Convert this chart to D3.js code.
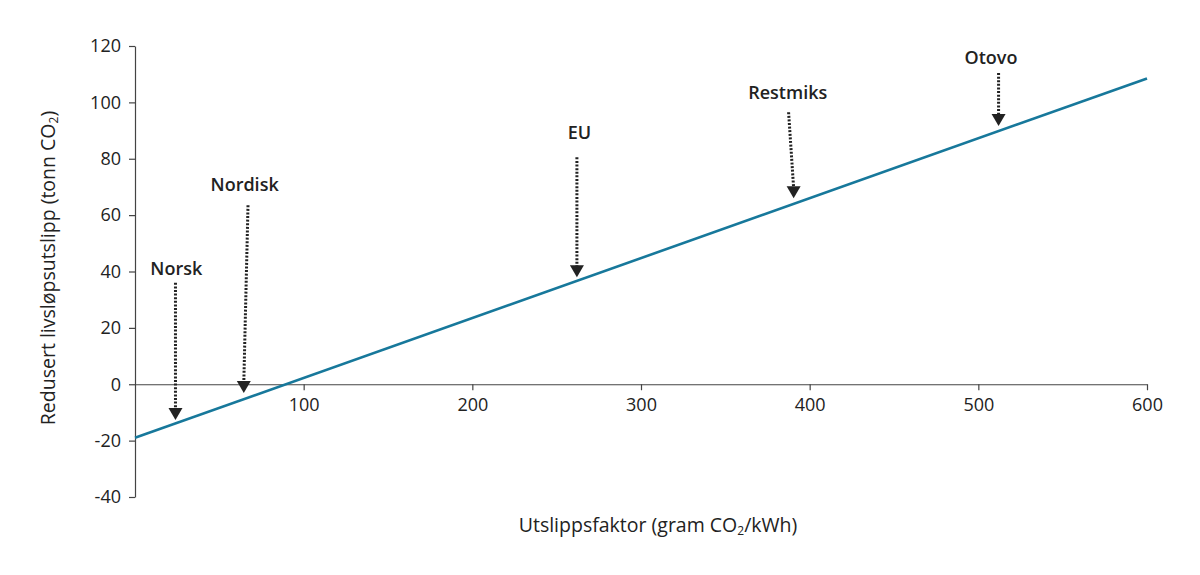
<!DOCTYPE html>
<html>
<head>
<meta charset="utf-8">
<script src="https://cdn.jsdelivr.net/npm/d3@7"></script>
<style>
  body { margin: 0; background: #fff; }
  text { font-family: "Open Sans", "Noto Sans", sans-serif; fill: #222; }
  .tick-label { font-size: 18px; }
  .axis-title { font-size: 19.5px; }
  .marker-label { font-size: 18px; font-weight: 600; }
</style>
</head>
<body>
<svg id="chart" width="1200" height="575"></svg>
<script>
var width = 1200, height = 575,
    margin = {top: 46, bottom: 78, left: 135, right: 53};

// data
var xTicks = [100, 200, 300, 400, 500, 600];
var yTicks = [-40, -20, 0, 20, 40, 60, 80, 100, 120];
var lineX = [0, 600];
var lineY = [-19, 108.5];

var markerNames = ['Norsk', 'Nordisk', 'EU', 'Restmiks', 'Otovo'];
var markerLabelX = [24.5, 65, 263.5, 387, 507.5];
var markerLabelY = [41.2, 71, 89.5, 103.7, 116.1];
var markerTopX = [24, 67, 262, 387.5, 512];
var markerTipX = [24, 64.5, 262, 390.5, 512];
var markerTop = [36, 63.5, 80.5, 96.5, 110.4];
var markerTip = [-12.7, -3.1, 38, 66, 91.6];

var axesWidth = width - margin.left - margin.right,
    axesHeight = height - margin.top - margin.bottom;

var svg = d3.select('#chart')
    .append('g')
    .attr('transform', `translate(${margin.left},${margin.top})`);

var x = d3.scaleLinear().domain([0, 600]).range([0, axesWidth]);
var y = d3.scaleLinear().domain([-40, 120]).range([axesHeight, 0]);

// Y axis
var yAxis = svg.append('g')
    .call(d3.axisLeft(y).tickValues(yTicks).tickFormat(d => String(d))
        .tickSize(6).tickSizeOuter(0).tickPadding(8));
yAxis.select('.domain').attr('stroke', '#444').attr('stroke-width', 1.2);
yAxis.selectAll('.tick line').attr('stroke', '#444').attr('stroke-width', 1.2);
yAxis.selectAll('.tick text').attr('class', 'tick-label').attr('font-family', null).attr('font-size', null);

// X axis at y = 0
var xAxis = svg.append('g')
    .attr('transform', `translate(0, ${y(0)})`)
    .call(d3.axisBottom(x).tickValues(xTicks).tickFormat(d => String(d))
        .tickSize(6).tickSizeOuter(0).tickPadding(8));
xAxis.select('.domain').attr('stroke', '#444').attr('stroke-width', 1.2);
xAxis.selectAll('.tick line').attr('stroke', '#444').attr('stroke-width', 1.2);
xAxis.selectAll('.tick text').attr('class', 'tick-label').attr('font-family', null).attr('font-size', null);

// Line
var lineData = lineX.map((v, i) => ({x: v, y: lineY[i]}));
svg.append('path')
    .datum(lineData)
    .attr('fill', 'none')
    .attr('stroke', '#17789b')
    .attr('stroke-width', 2.6)
    .attr('d', d3.line().x(d => x(d.x)).y(d => y(d.y)));

// Markers: dotted arrows with labels
var markers = markerNames.map((n, i) => ({
    name: n, lx: markerLabelX[i], ly: markerLabelY[i],
    x0: markerTopX[i], x1: markerTipX[i],
    y0: markerTop[i], y1: markerTip[i]
}));

var g = svg.selectAll('.marker')
    .data(markers)
    .join('g')
    .attr('class', 'marker');

g.append('line')
    .attr('x1', d => x(d.x0))
    .attr('y1', d => y(d.y0))
    .attr('x2', d => x(d.x1))
    .attr('y2', d => y(d.y1) - 10)
    .attr('stroke', '#222')
    .attr('stroke-width', 3)
    .attr('stroke-dasharray', '2,1.6');

g.append('path')
    .attr('fill', '#222')
    .attr('d', function(d) {
        var tx = x(d.x1), ty = y(d.y1);
        return `M${tx - 7},${ty - 12} L${tx + 7},${ty - 12} L${tx},${ty} Z`;
    });

g.append('text')
    .attr('class', 'marker-label')
    .attr('text-anchor', 'middle')
    .attr('dominant-baseline', 'central')
    .attr('x', d => x(d.lx))
    .attr('y', d => y(d.ly))
    .text(d => d.name);

// Axis titles
svg.append('text')
    .attr('class', 'axis-title')
    .attr('text-anchor', 'middle')
    .attr('transform', `translate(${-80}, ${222}) rotate(-90)`)
    .html('Redusert livsløpsutslipp (tonn CO<tspan font-size="12" dy="3">2</tspan><tspan dy="-3">)</tspan>');

svg.append('text')
    .attr('class', 'axis-title')
    .attr('text-anchor', 'middle')
    .attr('x', 658 - margin.left)
    .attr('y', 532 - margin.top)
    .html('Utslippsfaktor (gram CO<tspan font-size="12" dy="3">2</tspan><tspan dy="-3">/kWh)</tspan>');
</script>
</body>
</html>
